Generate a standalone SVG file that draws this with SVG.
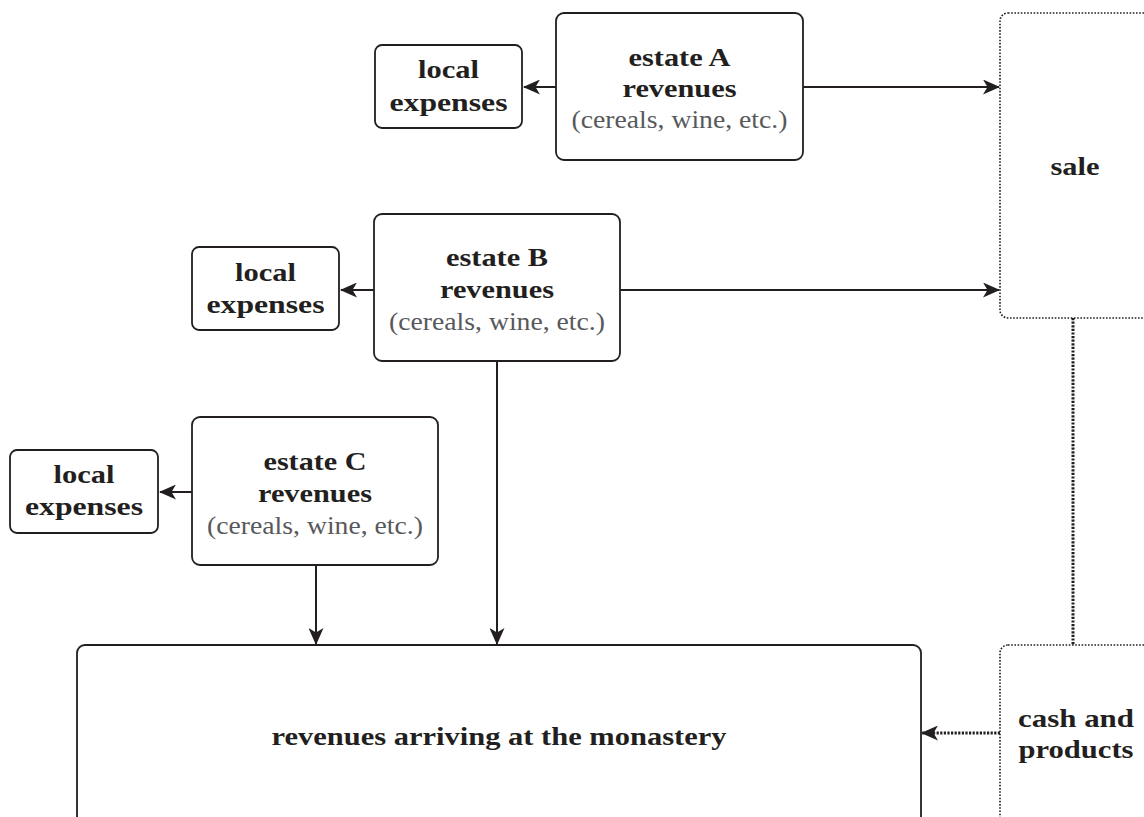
<svg xmlns="http://www.w3.org/2000/svg" width="1144" height="817" viewBox="0 0 1144 817">
<style>
.box{fill:#fff;stroke:#231f20;stroke-width:1.8}
.dbox{fill:#fff;stroke:#231f20;stroke-width:1.6;stroke-dasharray:1.6 1.6}
.b{font-family:'Liberation Serif','Times New Roman','DejaVu Serif',serif;font-weight:bold;font-size:26px;fill:#231f20;text-anchor:middle}
.r{font-family:'Liberation Serif','Times New Roman','DejaVu Serif',serif;font-size:25px;fill:#58595b;text-anchor:middle}
.ln{fill:none;stroke:#231f20;stroke-width:2}
.dl{fill:none;stroke:#231f20;stroke-width:3;stroke-dasharray:2.2 1.4}
</style>
<defs>
<marker id="ah" viewBox="0 0 17 15" refX="16" refY="7.5" markerWidth="17" markerHeight="15" markerUnits="userSpaceOnUse" orient="auto">
<path d="M0,0 L17,7.5 L0,15 L4.5,7.5 Z" fill="#231f20"/>
</marker>
</defs>
<g id="connectors">
<line class="ln" x1="556" y1="87" x2="524" y2="87" marker-end="url(#ah)"/>
<line class="ln" x1="803" y1="87" x2="999" y2="87" marker-end="url(#ah)"/>
<line class="ln" x1="374" y1="290" x2="341" y2="290" marker-end="url(#ah)"/>
<line class="ln" x1="620" y1="290" x2="999" y2="290" marker-end="url(#ah)"/>
<line class="ln" x1="497" y1="361" x2="497" y2="644" marker-end="url(#ah)"/>
<line class="ln" x1="192" y1="492" x2="160" y2="492" marker-end="url(#ah)"/>
<line class="ln" x1="316" y1="565" x2="316" y2="644" marker-end="url(#ah)"/>
<line class="dl" x1="1073" y1="318" x2="1073" y2="645"/>
<line class="dl" x1="1000" y1="733" x2="922" y2="733" marker-end="url(#ah)"/>
</g>
<g id="localA">
<rect class="box" x="375" y="45" width="147" height="83" rx="7"/>
<text class="b" x="448.5" y="78" textLength="61" lengthAdjust="spacingAndGlyphs">local</text>
<text class="b" x="448.5" y="111" textLength="118" lengthAdjust="spacingAndGlyphs">expenses</text>
</g>
<g id="estateA">
<rect class="box" x="556" y="13" width="247" height="147" rx="8"/>
<text class="b" x="679.5" y="66" textLength="102" lengthAdjust="spacingAndGlyphs">estate A</text>
<text class="b" x="679.5" y="97" textLength="114" lengthAdjust="spacingAndGlyphs">revenues</text>
<text class="r" x="679.5" y="128" textLength="216" lengthAdjust="spacingAndGlyphs">(cereals, wine, etc.)</text>
</g>
<g id="sale">
<rect class="dbox" x="1000" y="13" width="160" height="305" rx="8"/>
<text class="b" x="1075" y="175" textLength="49" lengthAdjust="spacingAndGlyphs">sale</text>
</g>
<g id="localB">
<rect class="box" x="192" y="247" width="147" height="83" rx="7"/>
<text class="b" x="265.5" y="281" textLength="61" lengthAdjust="spacingAndGlyphs">local</text>
<text class="b" x="265.5" y="313" textLength="118" lengthAdjust="spacingAndGlyphs">expenses</text>
</g>
<g id="estateB">
<rect class="box" x="374" y="214" width="246" height="147" rx="8"/>
<text class="b" x="497" y="266" textLength="102" lengthAdjust="spacingAndGlyphs">estate B</text>
<text class="b" x="497" y="298" textLength="114" lengthAdjust="spacingAndGlyphs">revenues</text>
<text class="r" x="497" y="330" textLength="216" lengthAdjust="spacingAndGlyphs">(cereals, wine, etc.)</text>
</g>
<g id="localC">
<rect class="box" x="10" y="450" width="148" height="83" rx="7"/>
<text class="b" x="84" y="483" textLength="61" lengthAdjust="spacingAndGlyphs">local</text>
<text class="b" x="84" y="515" textLength="118" lengthAdjust="spacingAndGlyphs">expenses</text>
</g>
<g id="estateC">
<rect class="box" x="192" y="417" width="246" height="148" rx="8"/>
<text class="b" x="315" y="470" textLength="103" lengthAdjust="spacingAndGlyphs">estate C</text>
<text class="b" x="315" y="502" textLength="114" lengthAdjust="spacingAndGlyphs">revenues</text>
<text class="r" x="315" y="534" textLength="216" lengthAdjust="spacingAndGlyphs">(cereals, wine, etc.)</text>
</g>
<g id="monastery">
<rect class="box" x="77" y="645" width="844" height="200" rx="8"/>
<text class="b" x="499" y="745" textLength="455" lengthAdjust="spacingAndGlyphs">revenues arriving at the monastery</text>
</g>
<g id="cash">
<rect class="dbox" x="1000" y="645" width="160" height="200" rx="8"/>
<text class="b" x="1076" y="727" textLength="116" lengthAdjust="spacingAndGlyphs">cash and</text>
<text class="b" x="1076" y="758" textLength="115" lengthAdjust="spacingAndGlyphs">products</text>
</g>
</svg>
